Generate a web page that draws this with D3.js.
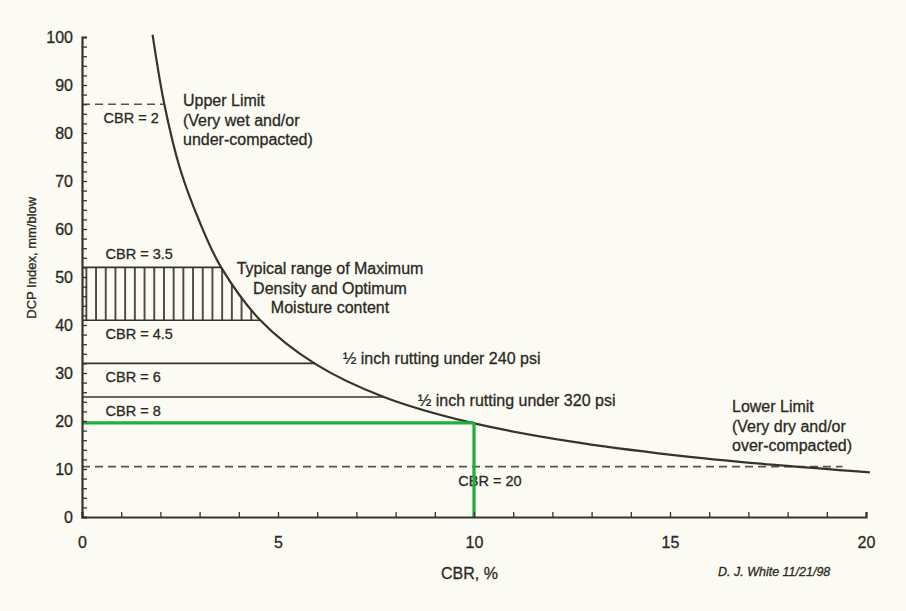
<!DOCTYPE html>
<html>
<head>
<meta charset="utf-8">
<script src="https://cdn.jsdelivr.net/npm/d3@7"></script>
<style>
  html, body { margin: 0; padding: 0; background: #fcfbf3; }
  svg { display: block; }
  text { font-family: "Liberation Sans", Arial, sans-serif; fill: #2a2a23; stroke: #2a2a23; stroke-width: 0.3px; }
</style>
</head>
<body>
<svg id="chart" width="906" height="611"></svg>
<script>
// ---- data ----
const curveCBR = [1.8, 2.1, 2.5, 3.0, 3.55, 4.55, 5.95, 7.7, 9.9, 12.5, 15.1, 17.6, 20.1];
const curveDCP = [100.5, 86, 72.6, 61.5, 52, 41, 31.9, 25, 19.7, 15.7, 12.9, 10.9, 9.3];

const refLineDCP  = [86, 52, 41, 32, 25, 10.5];
const refLineEnd  = [2.1, 3.55, 4.55, 5.95, 7.7, 19.4];
const refLineDash = [true, false, false, false, false, true];

const cbrLabels    = ["CBR = 2", "CBR = 3.5", "CBR = 4.5", "CBR = 6", "CBR = 8", "CBR = 20"];
const cbrLabelX    = [0.55, 0.6, 0.6, 0.6, 0.6, 9.6];
const cbrLabelDCP  = [86, 52, 41, 32, 25, 10.5];
const cbrLabelSide = ["below", "above", "below", "below", "below", "below"];

const hatchTop = 52, hatchBottom = 41;
const designCBR = 10, designDCP = 19.6;

const xTicks = [0, 5, 10, 15, 20];
const yTicks = [0, 10, 20, 30, 40, 50, 60, 70, 80, 90, 100];

const upperLimitText = ["Upper Limit", "(Very wet and/or", "under-compacted)"];
const lowerLimitText = ["Lower Limit", "(Very dry and/or", "over-compacted)"];
const typicalText = ["Typical range of Maximum", "Density and Optimum", "Moisture content"];
const rut1Text = "½ inch rutting under 240 psi";
const rut2Text = "½ inch rutting under 320 psi";

// ---- chart ----
const svg = d3.select("#chart");
const ink = "#34342c";
svg.append("rect").attr("width", 906).attr("height", 611).attr("fill", "#fcfbf3");

const x = d3.scaleLinear().domain([0, 20]).range([82, 866]);
const y = d3.scaleLinear().domain([0, 100]).range([517, 37]);

const curvePts = curveCBR.map((c, i) => [c, curveDCP[i]]);
const line = d3.line().x(d => x(d[0])).y(d => y(d[1])).curve(d3.curveCatmullRom.alpha(0.5));

const defs = svg.append("defs");
const pat = defs.append("pattern").attr("id", "hatch")
  .attr("patternUnits", "userSpaceOnUse")
  .attr("x", 91.2).attr("y", 0).attr("width", 9.7).attr("height", 20);
pat.append("line").attr("x1", 4.85).attr("x2", 4.85).attr("y1", 0).attr("y2", 20)
  .attr("stroke", ink).attr("stroke-width", 1.7);

const last = curvePts[curvePts.length - 1];
const clipD = line(curvePts) +
  `L${x(last[0])},${y(0)}L${x(0)},${y(0)}L${x(0)},${y(curvePts[0][1])}Z`;
defs.append("clipPath").attr("id", "underCurve").append("path").attr("d", clipD);

// hatched band
svg.append("rect")
  .attr("x", x(0) + 3).attr("y", y(hatchTop))
  .attr("width", x(6) - x(0)).attr("height", y(hatchBottom) - y(hatchTop))
  .attr("fill", "url(#hatch)")
  .attr("clip-path", "url(#underCurve)");

// reference horizontal lines
refLineDCP.forEach((v, i) => {
  svg.append("line")
    .attr("x1", x(0)).attr("x2", x(refLineEnd[i]))
    .attr("y1", y(v)).attr("y2", y(v))
    .attr("stroke", refLineDash[i] ? "#55554c" : ink)
    .attr("stroke-width", 1.6)
    .attr("stroke-dasharray", refLineDash[i] ? "8,5" : null);
});

// main curve
svg.append("path").attr("d", line(curvePts))
  .attr("fill", "none").attr("stroke", ink).attr("stroke-width", 2.2);

// CBR labels
cbrLabels.forEach((t, i) => {
  svg.append("text")
    .attr("x", x(cbrLabelX[i]))
    .attr("y", y(cbrLabelDCP[i]) + (cbrLabelSide[i] === "below" ? 14 : -8))
    .attr("dy", cbrLabelSide[i] === "below" ? "0.35em" : "0")
    .attr("font-size", 14.5)
    .text(t);
});

// green design lines
const green = "#1fae3c";
svg.append("line")
  .attr("x1", x(0)).attr("x2", x(designCBR))
  .attr("y1", y(designDCP)).attr("y2", y(designDCP))
  .attr("stroke", green).attr("stroke-width", 3.2);
svg.append("line")
  .attr("x1", x(designCBR)).attr("x2", x(designCBR))
  .attr("y1", y(0)).attr("y2", y(designDCP))
  .attr("stroke", green).attr("stroke-width", 3.2);

// axes
const yMinor = d3.axisRight(y).tickValues(d3.range(0, 101, 2)).tickSize(5).tickFormat("");
const gyMinor = svg.append("g").attr("transform", `translate(${x(0)},0)`).call(yMinor);
const yLab = d3.axisLeft(y).tickValues(yTicks).tickSize(0).tickPadding(9);
const gyLab = svg.append("g").attr("transform", `translate(${x(0)},0)`).call(yLab);
gyLab.select(".domain").remove();

const xMinor = d3.axisTop(x).tickValues(d3.range(0, 21, 1)).tickSize(5).tickFormat("");
const gxMinor = svg.append("g").attr("transform", `translate(0,${y(0)})`).call(xMinor);
const xLab = d3.axisBottom(x).tickValues(xTicks).tickSize(0).tickPadding(20);
const gxLab = svg.append("g").attr("transform", `translate(0,${y(0)})`).call(xLab);
gxLab.select(".domain").remove();

[gyMinor, gxMinor].forEach(g => {
  g.select(".domain").attr("stroke", ink).attr("stroke-width", 2.2);
  g.selectAll(".tick line").attr("stroke", ink).attr("stroke-width", 1.3);
});
[gyLab, gxLab].forEach(g => {
  g.selectAll(".tick text").attr("font-size", 16)
    .attr("font-family", '"Liberation Sans", Arial, sans-serif');
});

// axis titles
svg.append("text")
  .attr("transform", `translate(36,${y(54)}) rotate(-90)`)
  .attr("text-anchor", "middle").attr("font-size", 13)
  .text("DCP Index, mm/blow");
svg.append("text")
  .attr("x", 441).attr("y", 579).attr("font-size", 16)
  .text("CBR, %");
svg.append("text")
  .attr("x", 718).attr("y", 576).attr("font-size", 12.5)
  .attr("font-style", "italic")
  .text("D. J. White 11/21/98");

// annotations
function block(lines, px, py, anchor) {
  const t = svg.append("text").attr("font-size", 16).attr("text-anchor", anchor);
  lines.forEach((s, i) => {
    t.append("tspan").attr("x", px).attr("y", py + i * 19.5).text(s);
  });
}
block(upperLimitText, 183, 106, "start");
block(typicalText, 330, 274, "middle");
block(lowerLimitText, 732, 412, "start");

svg.append("text").attr("x", 343).attr("y", 364).attr("font-size", 16).text(rut1Text);
svg.append("text").attr("x", 418).attr("y", 406).attr("font-size", 16).text(rut2Text);
</script>
</body>
</html>
